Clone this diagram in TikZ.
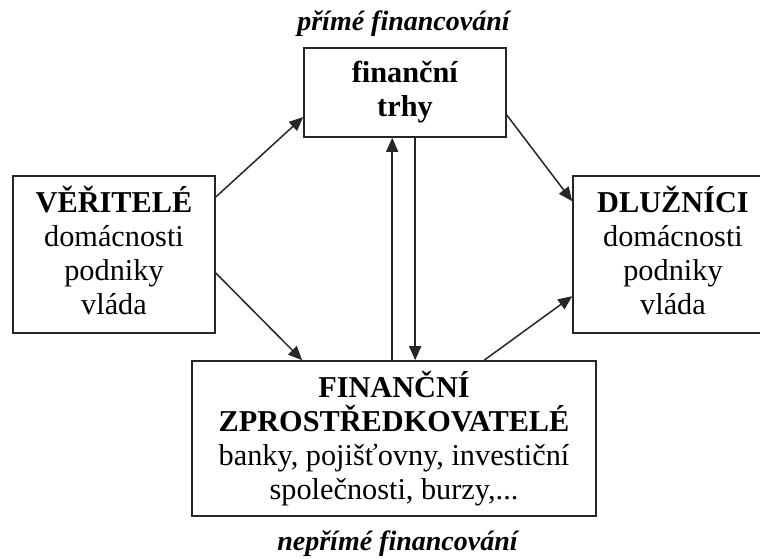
\documentclass[tikz,border=0pt]{standalone}
\usepackage{fontspec}
\setmainfont{Liberation Serif}
\usetikzlibrary{arrows.meta}
\newcommand{\lowdepth}{\rule[-9pt]{0pt}{9pt}}
\begin{document}
\begin{tikzpicture}[x=1pt,y=1pt,
  box/.style={draw=black!85, line width=1.6pt, inner sep=0pt, align=center,
    font=\fontsize{30.3}{34}\selectfont},
  flow/.style={draw=black!85, line width=1.5pt, -{Triangle[length=14pt,width=12pt]}},
  caption/.style={font=\fontsize{28}{30}\selectfont\bfseries\itshape, anchor=base, inner sep=0pt}]
\useasboundingbox (0,0) rectangle (760,558);

% participants and institutions
\node[box, minimum width=202pt, minimum height=157pt] (ver) at (114,303.5)
  {\textbf{VĚŘITELÉ}\\domácnosti\\podniky\\vláda\lowdepth};
\node[box, minimum width=200pt, minimum height=157pt] (dlu) at (673,303.5)
  {\textbf{DLUŽNÍCI}\\domácnosti\\podniky\\vláda\lowdepth};
\node[box, minimum width=202pt, minimum height=89pt] (trh) at (405,465.5)
  {\textbf{finanční}\\\textbf{trhy}};
\node[box, minimum width=404pt, minimum height=155pt] (zpr) at (394,119.5)
  {\textbf{FINANČNÍ}\\\textbf{ZPROSTŘEDKOVATELÉ}\\banky, pojišťovny, investiční\\společnosti, burzy,...};

% captions
\node[caption] (prime) at (403.5,527) {přímé financování};
\node[caption] (neprime) at (397.5,8) {nepřímé financování};

% flows of funds
\draw[flow] ([yshift=57.5pt]ver.east) -- ([yshift=-24.5pt]trh.west);
\draw[flow] ([yshift=-18.5pt]ver.east) -- ([xshift=111pt]zpr.north west);
\draw[flow] ([yshift=-22.5pt]trh.east) -- ([yshift=-26pt]dlu.north west);
\draw[flow] ([xshift=293pt]zpr.north west) -- ([yshift=-121pt]dlu.north west);
\draw[flow] ([xshift=201pt]zpr.north west) -- ([xshift=89pt]trh.south west);
\draw[flow] ([xshift=112pt]trh.south west) -- ([xshift=224pt]zpr.north west);
\end{tikzpicture}
\end{document}
